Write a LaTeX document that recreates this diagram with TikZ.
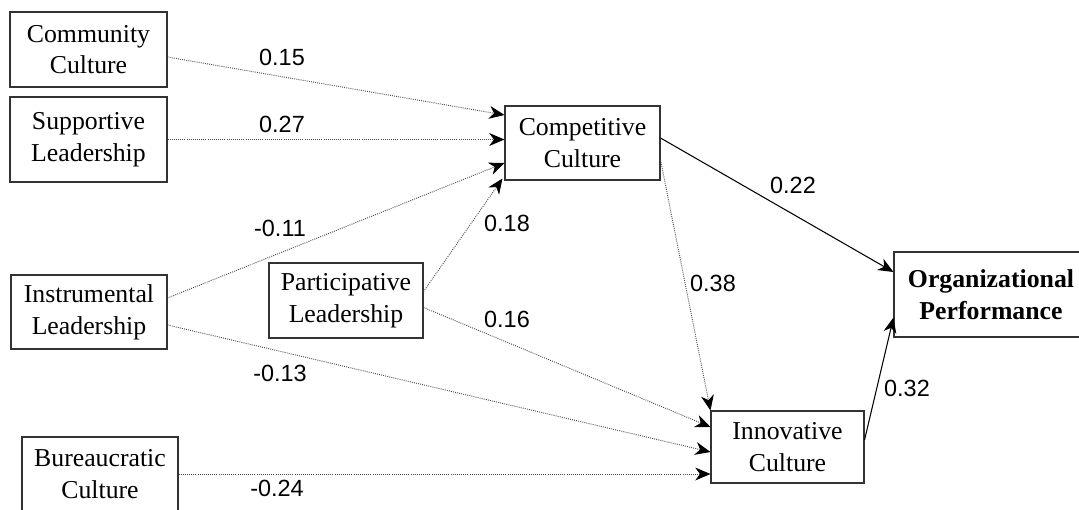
\documentclass[tikz,border=0pt]{standalone}
\usepackage{fontspec}
\setmainfont{Liberation Serif}
\newfontfamily\coeffont{Liberation Sans}
\usetikzlibrary{arrows.meta,calc}

\tikzset{
    factor/.style={draw=black!80, line width=0.9pt, align=center, inner sep=0pt,
        font=\fontsize{22}{27}\selectfont},
    path/.style={-{Stealth[length=13pt,width=11pt,inset=4pt,color=black]}, black!70, line width=0.8pt, densely dotted},
    mainpath/.style={-{Stealth[length=13pt,width=11pt,inset=4pt]}, black, line width=0.9pt},
    coef/.style={font=\coeffont\fontsize{20}{22}\selectfont}
}

\begin{document}
\begin{tikzpicture}[x=0.03cm,y=-0.03cm]

    \useasboundingbox (0,0) rectangle (1079,510);

    % exogenous factors on the left
    \node[factor, minimum width=157*0.03cm, minimum height=75*0.03cm] (comm) at (88.5,49.5) {Community\\Culture};
    \node[factor, minimum width=157*0.03cm, minimum height=85*0.03cm] (supp) at (88.5,139.5) {Supportive\\Leadership};
    \node[factor, minimum width=156*0.03cm, minimum height=74*0.03cm] (instr) at (89,312) {Instrumental\\Leadership};
    \node[factor, minimum width=154*0.03cm, minimum height=75*0.03cm] (part) at (346,300.5) {Participative\\Leadership};
    \node[factor, minimum width=156*0.03cm, minimum height=74*0.03cm] (bur) at (100,474) {Bureaucratic\\Culture};

    % mediating cultures
    \node[factor, minimum width=155*0.03cm, minimum height=74*0.03cm] (comp) at (582.5,143) {Competitive\\Culture};
    \node[factor, minimum width=153*0.03cm, minimum height=72*0.03cm] (innov) at (787.5,447) {Innovative\\Culture};

    % outcome
    \node[factor, font=\fontsize{22}{27}\selectfont\bfseries, minimum width=194*0.03cm, minimum height=85*0.03cm] (perf) at (991,294.5) {Organizational\\Performance};

    % paths into competitive culture
    \draw[path] ($(comm.east)+(0,7.5)$) -- ($(comp.west)+(0,-28)$);
    \draw[path] (supp.east) -- (supp.east -| comp.west);
    \draw[path] ($(instr.east)+(0,-14)$) -- ($(comp.west)+(0,20)$);
    \draw[path] ($(part.east)+(0,-9)$) -- ($(comp.south west)+(-2,-2)$);

    % paths into innovative culture
    \draw[path] ($(part.east)+(0,7)$) -- ($(innov.west)+(0,-20)$);
    \draw[path] ($(instr.east)+(0,13)$) -- ($(innov.west)+(0,5)$);
    \draw[path] (bur.east) -- (bur.east -| innov.west);
    \draw[path] ($(comp.east)+(0,17)$) -- (innov.north west);

    % paths into performance
    \draw[mainpath] ($(comp.east)+(0,-5)$) -- ($(perf.west)+(0,-22.5)$);
    \draw[mainpath] ($(innov.east)+(0,-7)$) -- ($(perf.south west)+(0,-20)$);

    % coefficients
    \node[coef] (c1) at (282,57) {0.15};
    \node[coef] (c2) at (282,124) {0.27};
    \node[coef] (c3) at (280,228) {-0.11};
    \node[coef] (c4) at (507,223) {0.18};
    \node[coef] (c5) at (507,319) {0.16};
    \node[coef] (c6) at (713,283) {0.38};
    \node[coef] (c7) at (793,185) {0.22};
    \node[coef] (c8) at (907,388) {0.32};
    \node[coef] (c9) at (280,373) {-0.13};
    \node[coef] (c10) at (277,488) {-0.24};

\end{tikzpicture}
\end{document}
